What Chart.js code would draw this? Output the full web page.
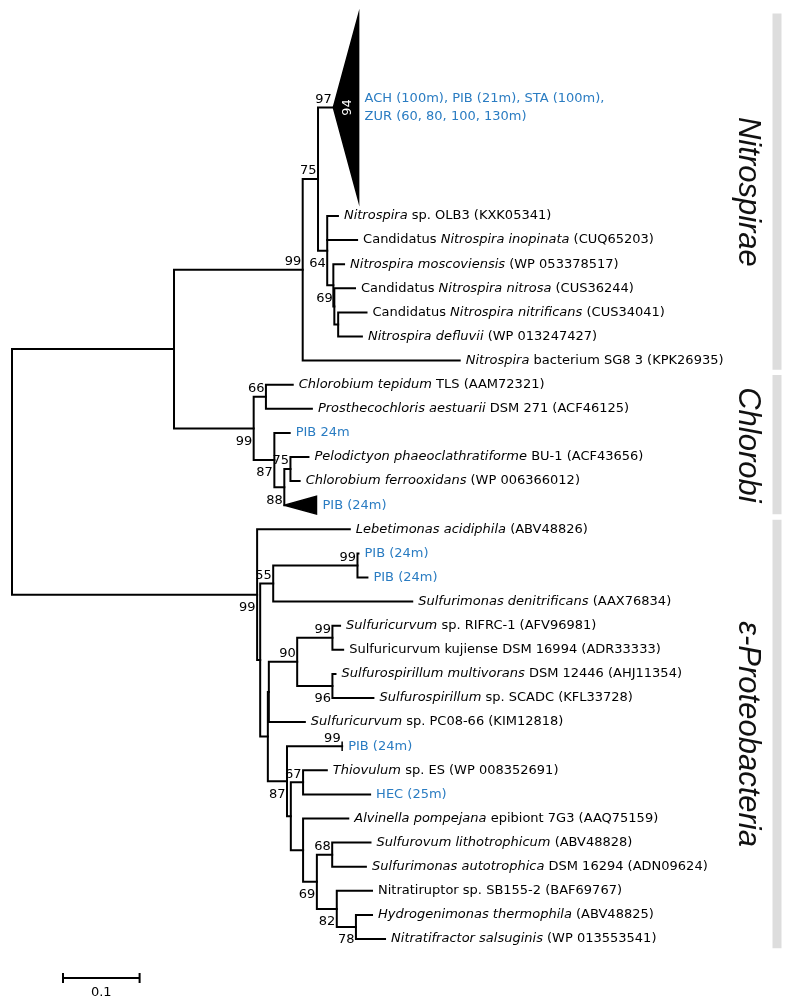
<!DOCTYPE html>
<html>
<head>
<meta charset="utf-8">
<script src="https://cdn.jsdelivr.net/npm/chart.js@4.4.1/dist/chart.umd.min.js"></script>
<style>
  html, body { margin: 0; padding: 0; background: #fff; }
  #wrap { width: 800px; height: 1008px; }
</style>
</head>
<body>
<div id="wrap"><canvas id="tree" width="800" height="1008"></canvas></div>
<script>
// ---- tree data -------------------------------------------------------------
// internal nodes: name, parent, branch length (subst./site), bootstrap
const nodeNames   = ['root','top','nitro','n75','n64','nsub','n69','ndef','chl','n66','n87c','n88','n75c','pro','ny','n55','n99b','nw','nq','n90','n99c','n96','n87','na','n67','nb','n69p','n68','n82','n78'];
const nodeParents = [null,'root','top','nitro','n75','n64','nsub','n69','top','chl','chl','n87c','n88','root','pro','ny','n55','ny','nw','nq','n90','n90','nw','n87','na','na','nb','n69p','n69p','n82'];
const nodeLengths = [0,0.2115,0.168,0.020,0.012,0.008,0.0013,0.005,0.104,0.016,0.027,0.013,0.008,0.320,0.004,0.017,0.110,0.010,0.0013,0.037,0.046,0.046,0.025,0.005,0.016,0.016,0.018,0.020,0.026,0.025];
const nodeSupport = [null,null,99,75,64,null,69,null,99,66,87,88,75,99,null,55,99,null,null,90,99,96,87,null,67,null,69,68,82,78];

// leaves, top to bottom (*...* = italic)
const leafLabels = [
  'ACH (100m), PIB (21m), STA (100m),\nZUR (60, 80, 100, 130m)',
  '*Nitrospira* sp. OLB3 (KXK05341)',
  'Candidatus *Nitrospira inopinata* (CUQ65203)',
  '*Nitrospira moscoviensis* (WP 053378517)',
  'Candidatus *Nitrospira nitrosa* (CUS36244)',
  'Candidatus *Nitrospira nitrificans* (CUS34041)',
  '*Nitrospira defluvii* (WP 013247427)',
  '*Nitrospira* bacterium SG8 3 (KPK26935)',
  '*Chlorobium tepidum* TLS (AAM72321)',
  '*Prosthecochloris aestuarii* DSM 271 (ACF46125)',
  'PIB 24m',
  '*Pelodictyon phaeoclathratiforme* BU-1 (ACF43656)',
  '*Chlorobium ferrooxidans* (WP 006366012)',
  'PIB (24m)',
  '*Lebetimonas acidiphila* (ABV48826)',
  'PIB (24m)',
  'PIB (24m)',
  '*Sulfurimonas denitrificans* (AAX76834)',
  '*Sulfuricurvum* sp. RIFRC-1 (AFV96981)',
  'Sulfuricurvum kujiense DSM 16994 (ADR33333)',
  '*Sulfurospirillum multivorans* DSM 12446 (AHJ11354)',
  '*Sulfurospirillum* sp. SCADC (KFL33728)',
  '*Sulfuricurvum* sp. PC08-66 (KIM12818)',
  'PIB (24m)',
  '*Thiovulum* sp. ES (WP 008352691)',
  'HEC (25m)',
  '*Alvinella pompejana* epibiont 7G3 (AAQ75159)',
  '*Sulfurovum lithotrophicum* (ABV48828)',
  '*Sulfurimonas autotrophica* DSM 16294 (ADN09624)',
  'Nitratiruptor sp. SB155-2 (BAF69767)',
  '*Hydrogenimonas thermophila* (ABV48825)',
  '*Nitratifractor salsuginis* (WP 013553541)'
];
const leafParents = ['n75','n64','n64','nsub','n69','ndef','ndef','nitro','n66','n66','n87c','n75c','n75c','n88','pro','n99b','n99b','n55','n99c','n99c','n96','n96','nq','n87','n67','n67','nb','n68','n68','n82','n78','n78'];
const leafLengths = [0.020,0.014,0.039,0.014,0.027,0.037,0.031,0.205,0.035,0.060,0.020,0.0235,0.012,0,0.121,0.0013,0.013,0.1815,0.010,0.014,0.004,0.0535,0.047,0.072,0.031,0.0875,0.059,0.050,0.044,0.046,0.021,0.038];
const leafSupport = [97,null,null,null,null,null,null,null,null,null,null,null,null,null,null,null,null,null,null,null,null,null,null,99,null,null,null,null,null,null,null,null];
const sampleLeaves = [0,10,13,15,16,23,25];   // environmental sequences (blue)

// collapsed clades: leaf index, rows taken, clade depth, support inside
const collapsedLeaf    = [0, 13];
const collapsedRows    = [8, 1];
const collapsedDepth   = [0.033, 0.042];
const collapsedSupport = ['94', null];

// bootstrap labels drawn under the branch instead of above
const supportBelow = ['n64','chl','n87c','n88','pro','n87','n69p','n82','n78','n96'];

// taxonomic groups
const groupNames     = ['Nitrospirae', 'Chlorobi', 'ε-Proteobacteria'];
const groupFirstLeaf = [0, 8, 14];
const groupLastLeaf  = [7, 13, 31];

const scaleBarLength = 0.1;
const scaleBarLabel  = '0.1';

// ---- layout constants -------------------------------------------------------
const ROOT_PX = 12, PX_PER_UNIT = 766, FIRST_ROW_PX = 216, ROW_PX = 24.1;
const W = 800, H = 1008;
const BLUE = '#2a7cc2';
const FONT_FAMILY = '"DejaVu Sans", Verdana, sans-serif';
const FONT_SIZE = 13;

// ---- build tree geometry ----------------------------------------------------
const nodes = {};
nodeNames.forEach((n, i) => {
  nodes[n] = { name: n, parent: nodeParents[i], len: nodeLengths[i], support: nodeSupport[i], children: [] };
});
const leaves = leafLabels.map((label, i) => {
  const ci = collapsedLeaf.indexOf(i);
  return {
    name: 'leaf' + i, index: i, label, parent: leafParents[i], len: leafLengths[i],
    support: leafSupport[i], leaf: true,
    rows: ci >= 0 ? collapsedRows[ci] : 1,
    clade: ci >= 0 ? collapsedDepth[ci] : 0,
    inner: ci >= 0 ? collapsedSupport[ci] : null,
    color: sampleLeaves.includes(i) ? BLUE : '#000',
  };
});

// leaf rows: row 0 is the first ordinary leaf, the big collapsed clade sits above it
let cursor = -(leaves[0].rows + 0.5);
leaves.forEach((lf) => {
  lf.top = cursor;
  lf.y = cursor + lf.rows / 2;
  cursor += lf.rows;
  nodes[lf.parent].children.push(lf);
});
nodeNames.forEach((n) => { if (nodes[n].parent) nodes[nodes[n].parent].children.push(nodes[n]); });

function placeX(nd, base) {
  nd.x = base + nd.len;
  (nd.children || []).forEach((c) => placeX(c, nd.x));
}
function placeY(nd) {
  if (nd.leaf) return nd.y;
  const ys = nd.children.map(placeY);
  nd.children.sort((a, b) => a.y - b.y);
  nd.y = (Math.min(...ys) + Math.max(...ys)) / 2;
  return nd.y;
}
placeX(nodes.root, 0);
placeY(nodes.root);

// ---- datasets ---------------------------------------------------------------
const lineStyle = {
  showLine: true, pointRadius: 0, borderColor: '#000', borderWidth: 2,
  borderJoinStyle: 'miter', borderCapStyle: 'square', fill: false, tension: 0,
};
const datasets = [];

// group bars in the right margin
const barX = (777 - ROOT_PX) / PX_PER_UNIT;
groupNames.forEach((g, i) => {
  const a = leaves[groupFirstLeaf[i]], b = leaves[groupLastLeaf[i]];
  datasets.push({
    ...lineStyle, borderColor: '#dddddd', borderWidth: 9, borderCapStyle: 'butt',
    data: [{ x: barX, y: a.top + 0.1 }, { x: barX, y: b.top + b.rows - 0.12 }],
  });
});

// brackets: first child -> node -> last child, middle children separately
nodeNames.forEach((n) => {
  const nd = nodes[n];
  const kids = nd.children;
  const first = kids[0], last = kids[kids.length - 1];
  datasets.push({
    ...lineStyle,
    data: [
      { x: first.x, y: first.y }, { x: nd.x, y: first.y },
      { x: nd.x, y: last.y }, { x: last.x, y: last.y },
    ],
  });
  kids.slice(1, -1).forEach((c) => {
    datasets.push({ ...lineStyle, data: [{ x: nd.x, y: c.y }, { x: c.x, y: c.y }] });
  });
});

// collapsed clades as filled triangles
leaves.filter((lf) => lf.clade > 0).forEach((lf) => {
  const half = lf.rows / 2 - 0.13;
  datasets.push({
    ...lineStyle, borderWidth: 1.5, fill: 'shape', backgroundColor: '#000',
    data: [
      { x: lf.x, y: lf.y }, { x: lf.x + lf.clade, y: lf.y - half },
      { x: lf.x + lf.clade, y: lf.y + half }, { x: lf.x, y: lf.y },
    ],
  });
});

// short tick at the tip of a leaf that carries its own support value
leaves.filter((lf) => lf.support && !lf.clade).forEach((lf) => {
  datasets.push({ ...lineStyle, borderWidth: 1.5, borderCapStyle: 'butt',
    data: [{ x: lf.x, y: lf.y - 0.2 }, { x: lf.x, y: lf.y + 0.2 }] });
});

// scale bar
const sbX = (63 - ROOT_PX) / PX_PER_UNIT, sbY = (978 - FIRST_ROW_PX) / ROW_PX, sbT = 0.21;
datasets.push({
  ...lineStyle, borderCapStyle: 'butt',
  data: [
    { x: sbX, y: sbY - sbT }, { x: sbX, y: sbY + sbT }, { x: sbX, y: sbY },
    { x: sbX + scaleBarLength, y: sbY }, { x: sbX + scaleBarLength, y: sbY - sbT },
    { x: sbX + scaleBarLength, y: sbY + sbT },
  ],
});

// ---- text plugin --------------------------------------------------------------
function drawRich(ctx, text, px, py, color) {
  let italic = false;
  text.split('*').forEach((part) => {
    if (part) {
      ctx.font = (italic ? 'italic ' : '') + FONT_SIZE + 'px ' + FONT_FAMILY;
      ctx.fillStyle = color;
      ctx.fillText(part, px, py);
      px += ctx.measureText(part).width;
    }
    italic = !italic;
  });
}

const treeText = {
  id: 'treeText',
  afterDatasetsDraw(chart) {
    const { ctx, scales: { x, y } } = chart;
    ctx.save();
    ctx.textBaseline = 'middle';

    // leaf labels
    ctx.textAlign = 'left';
    leaves.forEach((lf) => {
      const px = x.getPixelForValue(lf.x + lf.clade) + 6;
      const lines = lf.label.split('\n');
      lines.forEach((line, k) => {
        const py = y.getPixelForValue(lf.y) + (k - (lines.length - 1) / 2) * 18;
        drawRich(ctx, line, px, py, lf.color);
      });
    });

    // bootstrap values
    ctx.textAlign = 'right';
    ctx.fillStyle = '#000';
    ctx.font = FONT_SIZE + 'px ' + FONT_FAMILY;
    const supported = nodeNames.map((n) => nodes[n]).concat(leaves).filter((nd) => nd.support);
    supported.forEach((nd) => {
      const px = x.getPixelForValue(nd.x) - 1.5;
      const py = y.getPixelForValue(nd.y) + (supportBelow.includes(nd.name) ? 13 : -8);
      ctx.fillText(String(nd.support), px, py);
    });

    // support inside collapsed clades
    ctx.textAlign = 'center';
    ctx.fillStyle = '#fff';
    leaves.filter((lf) => lf.inner).forEach((lf) => {
      ctx.save();
      ctx.translate(x.getPixelForValue(lf.x + lf.clade * 0.55), y.getPixelForValue(lf.y));
      ctx.rotate(-Math.PI / 2);
      ctx.fillText(lf.inner, 0, 0);
      ctx.restore();
    });

    // group names
    ctx.fillStyle = '#111';
    ctx.font = 'italic 31px "Liberation Sans Narrow", "Liberation Sans", sans-serif';
    const gx = x.getPixelForValue((748 - ROOT_PX) / PX_PER_UNIT);
    groupNames.forEach((g, i) => {
      const a = leaves[groupFirstLeaf[i]], b = leaves[groupLastLeaf[i]];
      const gy = y.getPixelForValue((a.top + b.top + b.rows) / 2);
      ctx.save();
      ctx.translate(gx, gy);
      ctx.rotate(Math.PI / 2);
      ctx.fillText(g, 0, 0);
      ctx.restore();
    });

    // scale bar label
    ctx.fillStyle = '#000';
    ctx.font = FONT_SIZE + 'px ' + FONT_FAMILY;
    ctx.fillText(scaleBarLabel, x.getPixelForValue(sbX + scaleBarLength / 2), y.getPixelForValue(sbY) + 15);
    ctx.restore();
  },
};

new Chart(document.getElementById('tree'), {
  type: 'scatter',
  data: { datasets },
  options: {
    responsive: false,
    animation: false,
    devicePixelRatio: 1,
    layout: { padding: 0 },
    plugins: { legend: { display: false }, tooltip: { enabled: false } },
    scales: {
      x: { type: 'linear', display: false, min: -ROOT_PX / PX_PER_UNIT, max: (W - ROOT_PX) / PX_PER_UNIT },
      y: { type: 'linear', display: false, reverse: true,
           min: -FIRST_ROW_PX / ROW_PX, max: (H - FIRST_ROW_PX) / ROW_PX },
    },
  },
  plugins: [treeText],
});
</script>
</body>
</html>
